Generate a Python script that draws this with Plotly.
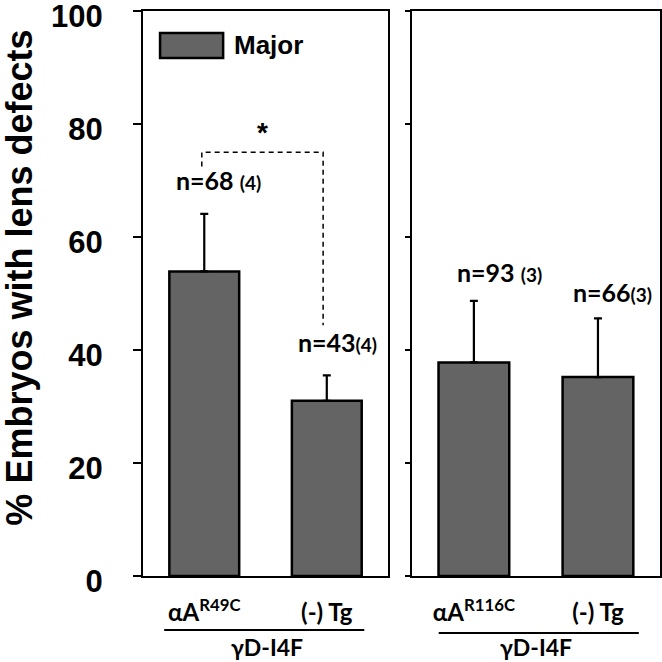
import plotly.graph_objects as go

# ---- data ----
categories_left = ["αA<sup>R49C</sup>", "(-) Tg"]
categories_right = ["αA<sup>R116C</sup>", "(-) Tg"]
values_left = [53.9, 31.0]
errors_left = [10.2, 4.5]
values_right = [37.8, 35.2]
errors_right = [10.9, 10.4]
n_labels_left = ["n=68 <span style='font-size:19px'>(4)</span>", "n=43<span style='font-size:19px'>(4)</span>"]
n_labels_right = ["n=93 <span style='font-size:19px'>(3)</span>", "n=66<span style='font-size:19px'>(3)</span>"]
group_label = "γD-I4F"
series_name = "Major"
y_ticks = [0, 20, 40, 60, 80, 100]
y_title = "% Embryos with lens defects"

BAR = "#646464"
ARIAL = "Liberation Sans"
CAL = "Lato"

fig = go.Figure()

for cats, vals, errs, xa, ya in [
    (categories_left, values_left, errors_left, "x", "y"),
    (categories_right, values_right, errors_right, "x2", "y2"),
]:
    fig.add_trace(go.Bar(
        x=cats, y=vals, xaxis=xa, yaxis=ya, name=series_name, showlegend=False,
        width=0.57, marker=dict(color=BAR, line=dict(color="black", width=2.5)),
        error_y=dict(type="data", symmetric=False, array=errs,
                     arrayminus=[0] * len(errs), color="black",
                     thickness=2.2, width=4),
    ))

axis_common = dict(showline=True, linecolor="black", linewidth=2, mirror=True,
                   showgrid=False, zeroline=False, automargin=False)

xtickfont = dict(family=CAL, size=24, color="black", weight="bold")

fig.update_layout(
    width=662, height=662,
    margin=dict(l=143, r=2, t=11, b=86, autoexpand=False),
    paper_bgcolor="white", plot_bgcolor="white",
    xaxis=dict(domain=[0, 0.474], type="category", range=[-0.5, 1.5],
               ticks="", ticklabelstandoff=14, tickfont=xtickfont,
               anchor="y", **axis_common),
    xaxis2=dict(domain=[0.520, 1], type="category", range=[-0.5, 1.5],
                ticks="", ticklabelstandoff=14, tickfont=xtickfont,
                anchor="y2", **axis_common),
    yaxis=dict(range=[0, 100], tickvals=y_ticks, ticks="outside", ticklen=8,
               tickwidth=2, tickcolor="black", ticklabelstandoff=24,
               ticklabelshift=5, ticklabeloverflow="allow",
               tickfont=dict(family=ARIAL, size=31, color="black", weight="bold"),
               anchor="x", **axis_common),
    yaxis2=dict(range=[0, 100], tickvals=y_ticks, ticks="outside", ticklen=5,
                tickwidth=2, tickcolor="black", showticklabels=False,
                matches="y", anchor="x2", **axis_common),
)

annotations = []
# y title
annotations.append(dict(text=y_title, xref="paper", yref="paper", x=-0.238, y=0.528,
                        textangle=-90, showarrow=False, xanchor="center", yanchor="middle",
                        font=dict(family=ARIAL, size=36, color="black", weight="bold")))
# n labels
n_pos_left = [(0.12, 70.1), (1.09, 41.4)]
n_pos_right = [(0.21, 53.8), (1.12, 50.3)]
nfont = dict(family=CAL, size=25, color="black", weight="bold")
for (px, py), t in zip(n_pos_left, n_labels_left):
    annotations.append(dict(text=t, xref="x", yref="y", x=px, y=py, showarrow=False, font=nfont))
for (px, py), t in zip(n_pos_right, n_labels_right):
    annotations.append(dict(text=t, xref="x2", yref="y2", x=px, y=py, showarrow=False, font=nfont))
# asterisk
annotations.append(dict(text="*", xref="x", yref="y", x=0.475, y=78.5, showarrow=False,
                        font=dict(family=ARIAL, size=28, color="black", weight="bold")))
# legend text
annotations.append(dict(text=series_name, xref="paper", yref="paper", x=0.172, y=0.94,
                        xanchor="left", yanchor="middle", showarrow=False,
                        font=dict(family=ARIAL, size=26, color="black", weight="bold")))
# group labels
for cx in [0.24, 0.76]:
    annotations.append(dict(text=group_label, xref="paper", yref="paper", x=cx, y=-0.125,
                            xanchor="center", yanchor="middle", showarrow=False,
                            font=dict(family=CAL, size=23, color="black", weight="bold")))
fig.update_layout(annotations=annotations)

shapes = []
# significance bracket
shapes.append(dict(type="path", xref="x", yref="y",
                   path="M -0.02,72.5 L -0.02,75 L 0.97,75 L 0.97,44.4",
                   line=dict(color="black", width=1.5, dash="5px,4px")))
# legend box
shapes.append(dict(type="rect", xref="paper", yref="paper", x0=0.033, x1=0.155,
                   y0=0.917, y1=0.961, fillcolor=BAR, line=dict(color="black", width=2.5)))
# group underlines
shapes.append(dict(type="line", xref="paper", yref="paper", x0=0.041, x1=0.428,
                   y0=-0.0956, y1=-0.0956, line=dict(color="black", width=2)))
shapes.append(dict(type="line", xref="paper", yref="paper", x0=0.572, x1=0.959,
                   y0=-0.101, y1=-0.101, line=dict(color="black", width=2)))
fig.update_layout(shapes=shapes)

fig.write_html("out.html", config={"displayModeBar": False},
               post_script="document.body.style.margin='0px';")
